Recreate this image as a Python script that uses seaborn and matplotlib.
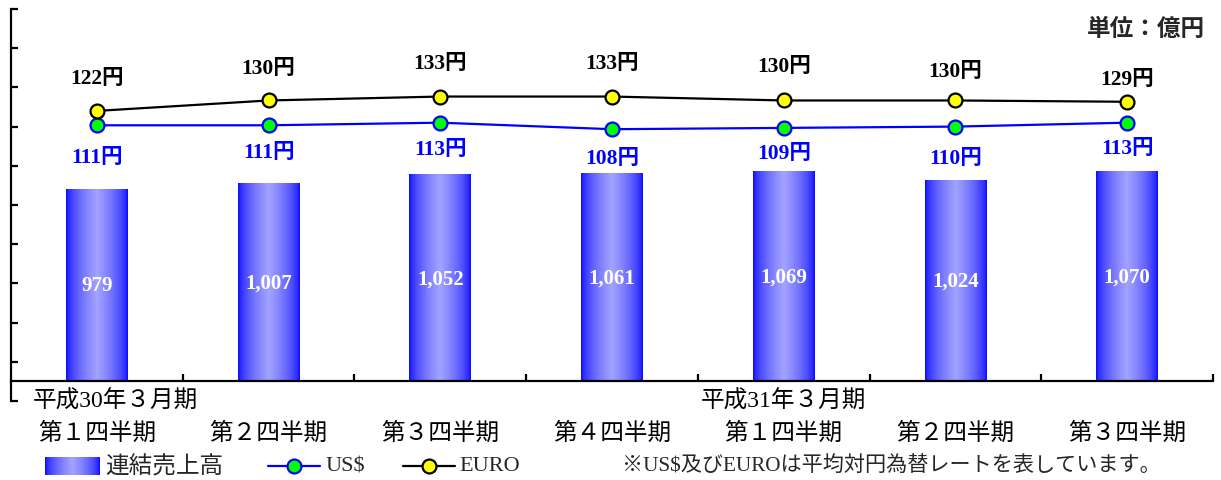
import numpy as np
import pandas as pd
import matplotlib
matplotlib.use('Agg')
import matplotlib.pyplot as plt
import matplotlib.transforms as mtransforms
from matplotlib.lines import Line2D
import seaborn as sns

# ---- data ----
quarters = ['第１四半期', '第２四半期', '第３四半期', '第４四半期',
            '第１四半期', '第２四半期', '第３四半期']
fiscal_years = ['平成30年３月期', '', '', '', '平成31年３月期', '', '']
sales = [979, 1007, 1052, 1061, 1069, 1024, 1070]
usd = [111, 111, 113, 108, 109, 110, 113]
euro = [122, 130, 133, 133, 130, 130, 129]

# label offsets (pixels) as placed in the reference
euro_off = [33, 32, 34, 34, 34, 29, 23]
usd_off = [32, 27, 26, 29, 25, 31, 25]

sns.set_theme(style='white')
plt.rcParams['font.family'] = ['Liberation Serif', 'Noto Sans CJK JP']

W, H = 1221, 481
fig = plt.figure(figsize=(W / 100, H / 100), dpi=100)


def fx(x):
    return x / W


def fy(y):
    return 1 - y / H


ax = fig.add_axes([fx(11), fy(402), 1202 / W, 392 / H])

df = pd.DataFrame({'pos': list(range(len(sales))), 'sales': sales})
sns.barplot(data=df, x='pos', y='sales', ax=ax, width=0.36, color='blue',
            saturation=1, edgecolor='none')

# gradient fill for bars
t = np.linspace(0, 1, 256)
f = (1 - np.abs(2 * t - 1)) ** 0.55
blue = np.array([0.0, 0.0, 1.0])
light = np.array([0.64, 0.64, 1.0])
grad = (blue[None, :] * (1 - f[:, None]) + light[None, :] * f[:, None])[None, :, :]
for p in list(ax.patches):
    x0, y0, w, h = p.get_x(), p.get_y(), p.get_width(), p.get_height()
    ax.imshow(grad, extent=[x0, x0 + w, y0, y0 + h], aspect='auto',
              origin='lower', zorder=2, interpolation='bilinear')
    p.set_facecolor('none')

ax.set_xlim(-0.5, 6.5)
ax.set_ylim(-100, 1900)
ax.set_xlabel('')
ax.set_ylabel('')

for i, s in enumerate(sales):
    ax.text(i, s / 2, f'{s:,}', ha='center', va='center', color='white',
            fontsize=15, fontweight='bold', zorder=5)

for sp in ['top', 'right', 'left']:
    ax.spines[sp].set_visible(False)
ax.spines['bottom'].set_position(('data', 0))
ax.spines['bottom'].set_linewidth(1.6)
ax.spines['bottom'].set_color('black')
ax.spines['bottom'].set_zorder(6)
ax.set_xticks(range(7))
ax.set_xticklabels([''] * 7)
ax.set_xticks(np.arange(0.5, 7, 1), minor=True)
ax.tick_params(axis='x', which='major', length=0)
ax.tick_params(axis='x', which='minor', direction='in', length=5, width=1.6,
               color='black', bottom=True)
ax.set_yticks([])
ax.grid(False)

# lines on twin axis
ax2 = ax.twinx()
ax2.set_ylim(-100, 200)
xs = list(range(len(usd)))
sns.lineplot(x=xs, y=usd, ax=ax2, color='blue', lw=1.6, marker='o',
             markersize=10, markerfacecolor='#00FF00', markeredgecolor='blue',
             markeredgewidth=1.6, legend=False)
sns.lineplot(x=xs, y=euro, ax=ax2, color='black', lw=1.6, marker='o',
             markersize=10, markerfacecolor='#FFFF00', markeredgecolor='black',
             markeredgewidth=1.6, legend=False)
ax2.set_xlim(-0.5, 6.5)
ax2.set_ylim(-100, 200)
ax2.set_xlabel('')
ax2.set_ylabel('')
for sp in ['top', 'right', 'bottom']:
    ax2.spines[sp].set_visible(False)
ax2.spines['left'].set_visible(True)
ax2.spines['left'].set_linewidth(1.6)
ax2.spines['left'].set_color('black')
ax2.yaxis.set_ticks_position('left')
ax2.set_yticks(np.arange(-100, 201, 30))
ax2.tick_params(axis='y', direction='in', length=5, width=1.6, color='black',
                labelleft=False, labelright=False, left=True, right=False)
ax2.grid(False)

for i, v in enumerate(euro):
    ax2.annotate(f'{v}円', (i, v), xytext=(0, euro_off[i] * 0.72),
                 textcoords='offset points', ha='center', va='center',
                 fontsize=15.5, fontweight='bold', color='black')
for i, v in enumerate(usd):
    ax2.annotate(f'{v}円', (i, v), xytext=(0, -usd_off[i] * 0.72),
                 textcoords='offset points', ha='center', va='center',
                 fontsize=15.5, fontweight='bold', color='blue')

# category labels
trans = mtransforms.blended_transform_factory(ax.transData, fig.transFigure)
for i, q in enumerate(quarters):
    ax.text(i, fy(434), q, transform=trans, ha='center', va='center',
            fontsize=17, color='black')
fy_x = {0: 0.11, 4: 0.0}
for i, lab in enumerate(fiscal_years):
    if lab:
        ax.text(i + fy_x.get(i, 0), fy(402), lab, transform=trans,
                ha='center', va='center', fontsize=17, color='black')

# unit
fig.text(fx(1205), fy(30), '単位：億円', ha='right', va='center',
         fontsize=17, fontweight='bold')

# legend
lax = fig.add_axes([fx(45), fy(476), 55 / W, 18 / H])
lax.imshow(grad, aspect='auto', interpolation='bilinear')
lax.axis('off')
fig.text(fx(105), fy(467), '連結売上高', ha='left', va='center', fontsize=17)

fig.add_artist(Line2D([fx(268), fx(320)], [fy(467), fy(467)], color='blue',
                      lw=1.6, transform=fig.transFigure))
fig.add_artist(Line2D([fx(294)], [fy(467)], marker='o', markersize=10,
                      markerfacecolor='#00FF00', markeredgecolor='blue',
                      markeredgewidth=1.6, transform=fig.transFigure))
fig.text(fx(326), fy(467), 'US$', ha='left', va='center', fontsize=16)

fig.add_artist(Line2D([fx(403), fx(455)], [fy(467), fy(467)], color='black',
                      lw=1.6, transform=fig.transFigure))
fig.add_artist(Line2D([fx(429)], [fy(467)], marker='o', markersize=10,
                      markerfacecolor='#FFFF00', markeredgecolor='black',
                      markeredgewidth=1.6, transform=fig.transFigure))
fig.text(fx(459), fy(467), 'EURO', ha='left', va='center', fontsize=16)

fig.text(fx(622), fy(467), '※US$及びEUROは平均対円為替レートを表しています。',
         ha='left', va='center', fontsize=15.2)

fig.savefig('out.png', dpi=100, facecolor='white')
